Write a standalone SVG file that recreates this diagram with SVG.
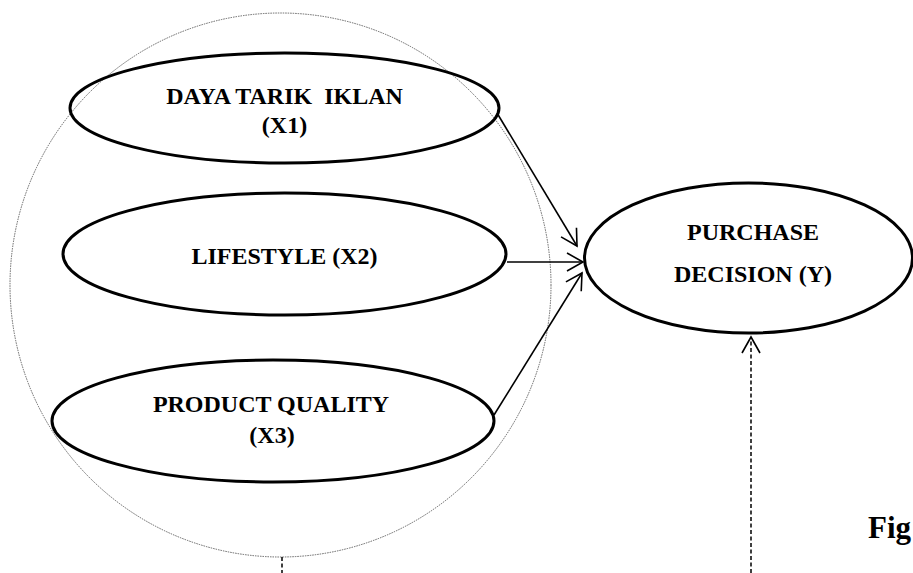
<svg xmlns="http://www.w3.org/2000/svg" width="913" height="573" viewBox="0 0 913 573">
<style>
.node{fill:none;stroke:#000;stroke-width:3}
.lbl{font-family:"Liberation Serif","Times New Roman",serif;font-weight:bold;font-size:24px;fill:#000;text-anchor:middle}
.conn{fill:none;stroke:#000;stroke-width:1.6}
.dash{fill:none;stroke:#000;stroke-width:1.5;stroke-dasharray:4 2.5}
.group{fill:none;stroke:#555;stroke-width:0.9;stroke-dasharray:1.5 1}
</style>
<defs>
<marker id="ah" markerUnits="userSpaceOnUse" markerWidth="24" markerHeight="24" viewBox="-20 -12 24 24" refX="0" refY="0" orient="auto">
<path d="M-16,-9 L0,0 L-16,9" fill="none" stroke="#000" stroke-width="1.6"/>
</marker>
</defs>
<rect width="913" height="573" fill="#fff"/>
<ellipse id="scope" class="group" cx="280.5" cy="285" rx="270.5" ry="272"/>
<g id="x1">
<ellipse class="node" cx="284.5" cy="108" rx="214.5" ry="55"/>
<text class="lbl" x="284.5" y="104" xml:space="preserve">DAYA TARIK  IKLAN</text>
<text class="lbl" x="284.5" y="133">(X1)</text>
</g>
<g id="x2">
<ellipse class="node" cx="284.5" cy="254" rx="221.5" ry="61"/>
<text class="lbl" x="284.5" y="264">LIFESTYLE (X2)</text>
</g>
<g id="x3">
<ellipse class="node" cx="273" cy="421" rx="221" ry="61"/>
<text class="lbl" x="271" y="412">PRODUCT QUALITY</text>
<text class="lbl" x="272" y="443">(X3)</text>
</g>
<g id="y">
<ellipse class="node" cx="748.5" cy="258" rx="164" ry="75"/>
<text class="lbl" x="753" y="240">PURCHASE</text>
<text class="lbl" x="753" y="282">DECISION (Y)</text>
</g>
<g id="connectors">
<line class="conn" x1="497" y1="113" x2="577" y2="246" marker-end="url(#ah)"/>
<line class="conn" x1="507" y1="262" x2="583" y2="262" marker-end="url(#ah)"/>
<line class="conn" x1="494" y1="415" x2="582" y2="273" marker-end="url(#ah)"/>
<line class="dash" x1="751" y1="573" x2="751" y2="337" marker-end="url(#ah)"/>
<line class="dash" x1="282" y1="557" x2="282" y2="573"/>
</g>
<text x="868" y="538" font-family="Liberation Serif, Times New Roman, serif" font-weight="bold" font-size="31">Fig</text>
</svg>
